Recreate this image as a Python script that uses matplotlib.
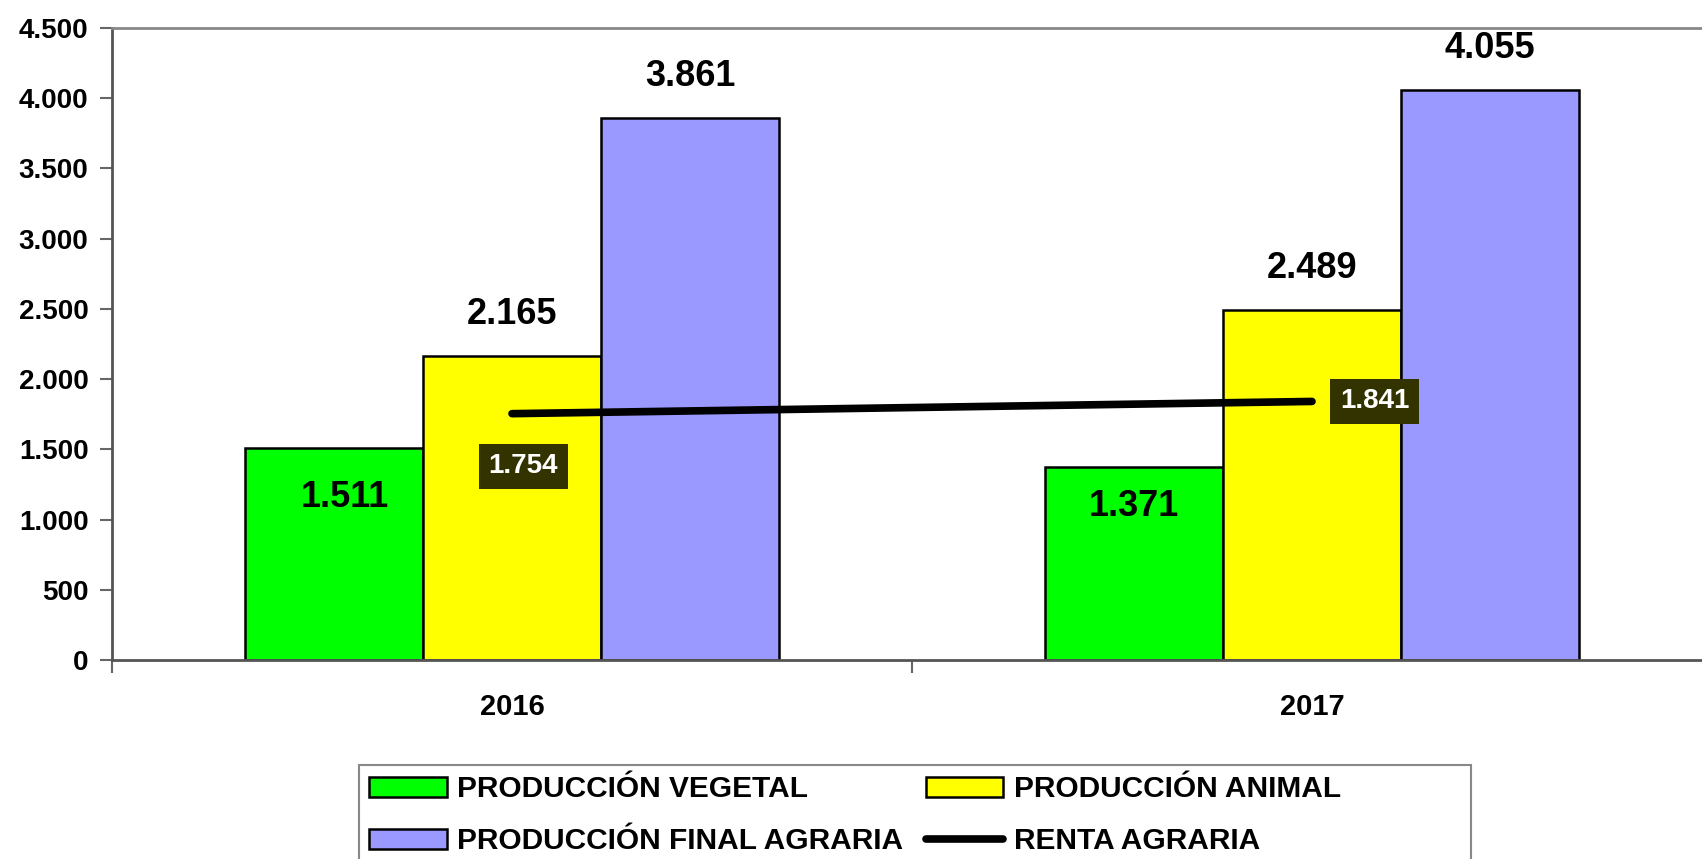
import matplotlib
matplotlib.use("Agg")
import matplotlib.pyplot as plt
from matplotlib.patches import Rectangle
import numpy as np

years = ["2016", "2017"]
prod_vegetal = [1511, 1371]
prod_animal = [2165, 2489]
prod_final = [3861, 4055]
renta = [1754, 1841]
series_names = ["PRODUCCIÓN VEGETAL", "PRODUCCIÓN ANIMAL", "PRODUCCIÓN FINAL AGRARIA", "RENTA AGRARIA"]
yticks = [0, 500, 1000, 1500, 2000, 2500, 3000, 3500, 4000, 4500]

def fmt(v):
    return f"{v:,}".replace(",", ".")

plt.rcParams['font.family'] = ['Liberation Sans', 'DejaVu Sans']
plt.rcParams['font.weight'] = 'bold'

fig = plt.figure(figsize=(17.02, 8.59), dpi=100)
ax = fig.add_axes([112/1702, 1-660/859, 1600/1702, (660-28)/859])

x = np.arange(len(years))
w = 0.2225
colors = ["#00FF00", "#FFFF00", "#9999FF"]
bars = []
for i, (vals, c, name) in enumerate(zip([prod_vegetal, prod_animal, prod_final], colors, series_names)):
    b = ax.bar(x + (i - 1) * w, vals, w, color=c, edgecolor="black", linewidth=1.8, label=name, zorder=2)
    bars.append(b)

line, = ax.plot(x, renta, color="black", linewidth=5.5, solid_capstyle="round", label=series_names[3], zorder=3)

# value labels
inside_offsets = [(8, -36), (0, -28)]
for j in range(len(years)):
    ax.annotate(fmt(prod_vegetal[j]), (x[j] - w, prod_vegetal[j]), xytext=inside_offsets[j],
                textcoords="offset points", ha="center", va="center", fontsize=26, fontweight="bold", zorder=4)
    ax.annotate(fmt(prod_animal[j]), (x[j], prod_animal[j]), xytext=(0, 30),
                textcoords="offset points", ha="center", va="center", fontsize=26, fontweight="bold", zorder=4)
    ax.annotate(fmt(prod_final[j]), (x[j] + w, prod_final[j]), xytext=(0, 30),
                textcoords="offset points", ha="center", va="center", fontsize=26, fontweight="bold", zorder=4)

renta_offsets = [(8, -38), (45, 0)]
for j in range(len(years)):
    ax.annotate(fmt(renta[j]), (x[j], renta[j]), xytext=renta_offsets[j], textcoords="offset points",
                ha="center", va="center", fontsize=20, fontweight="bold", color="white", zorder=5,
                bbox=dict(boxstyle="square,pad=0.35", facecolor="#333300", edgecolor="none"))

ax.set_xlim(-0.5, 1.5)
ax.set_ylim(0, 4500)
ax.set_yticks(yticks)
ax.set_yticklabels([fmt(v) for v in yticks], fontsize=20, fontweight="bold")
ax.set_xticks(x)
ax.set_xticklabels(years, fontsize=21, fontweight="bold")
ax.tick_params(axis="x", which="major", length=0, pad=24)
ax.set_xticks([-0.5, 0.5, 1.5], minor=True)
ax.tick_params(axis="x", which="minor", length=9, width=1.5, color="#666666", direction="out")
ax.tick_params(axis="y", length=9, width=1.5, color="#666666", direction="out", pad=8)

for s in ["left", "bottom"]:
    ax.spines[s].set_color("#555555")
    ax.spines[s].set_linewidth(2)
ax.spines["top"].set_color("#888888")
ax.spines["top"].set_linewidth(2)
ax.spines["right"].set_visible(False)

# legend frame (wider than its contents, cut by the bottom edge)
fig.patches.append(Rectangle((359/1702, -0.02), (1471-359)/1702, 0.02 + (859-765)/859,
                             transform=fig.transFigure, facecolor="white", edgecolor="#888888",
                             linewidth=1.5, zorder=1))

# legend (column-major order so rows read: vegetal, animal / final, renta)
handles = [bars[0], bars[2], bars[1], line]
labels = [series_names[0], series_names[2], series_names[1], series_names[3]]
leg = fig.legend(handles, labels, loc="upper left", bbox_to_anchor=(359/1702, 1-765/859),
                 ncol=2, frameon=False,
                 handlelength=2.6, handleheight=0.65, handletextpad=0.34, columnspacing=0.75,
                 borderpad=0.35, labelspacing=0.8, borderaxespad=0,
                 prop={'weight': 'bold', 'size': 21.5})
leg.set_zorder(2)

fig.savefig("out.png", dpi=100)
